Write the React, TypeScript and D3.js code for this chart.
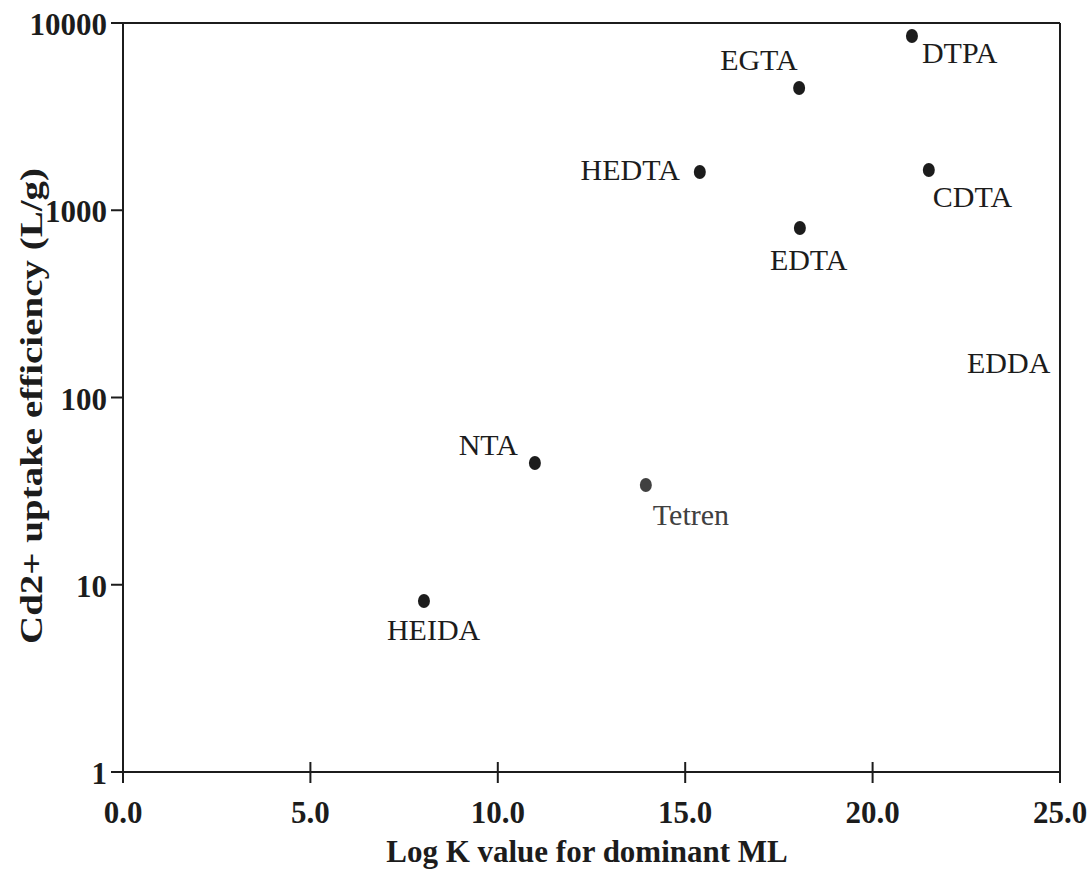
import React from "react";
import * as d3 from "d3";

// ---- data ----
const ligands = ["DTPA", "EGTA", "HEDTA", "CDTA", "EDTA", "NTA", "Tetren", "HEIDA"];
const logK = [21.05, 18.04, 15.39, 21.5, 18.06, 10.99, 13.95, 8.03];
const uptake = [8530, 4500, 1600, 1640, 804, 44.7, 34.1, 8.19];
// label-only entry (no plotted marker)
const extraLabel = "EDDA";
const extraLabelX = 22.52;
const extraLabelY = 135;

const xTicks = [0, 5, 10, 15, 20, 25];
const yTicks = [1, 10, 100, 1000, 10000];
const xTitle = "Log K value for dominant ML";
const yTitle = "Cd2+ uptake efficiency (L/g)";

// label offsets from point (px): [dx, dy, anchor]
const labelOffsets: [number, number, string][] = [
  [10, 27, "start"],
  [-79, -18, "start"],
  [-20, 8, "end"],
  [4, 37, "start"],
  [-30, 42, "start"],
  [-17, -8, "end"],
  [7, 40, "start"],
  [-37, 39, "start"],
];

export default function App() {
  const W = 1089, H = 870;
  const left = 123, right = 1060, top = 23, bottom = 772;
  const x = d3.scaleLinear().domain([0, 25]).range([left, right]);
  const y = d3.scaleLog().domain([1, 10000]).range([bottom, top]);
  const ink = "#1c1c1c";
  const serif = "'Liberation Serif', 'Times New Roman', serif";

  return (
    <svg width={W} height={H} style={{ position: "absolute", left: 0, top: 0, background: "#fff" }}>
      {/* frame */}
      <line x1={left} x2={right} y1={top} y2={top} stroke={ink} strokeWidth={2} />
      <line x1={right} x2={right} y1={top} y2={bottom} stroke={ink} strokeWidth={2} />
      <line x1={left} x2={left} y1={top} y2={bottom} stroke={ink} strokeWidth={2} />
      <line x1={left} x2={right} y1={bottom} y2={bottom} stroke={ink} strokeWidth={2} />

      {/* x ticks */}
      {xTicks.map((t) => (
        <g key={"xt" + t}>
          <line x1={x(t)} x2={x(t)} y1={bottom - 10} y2={bottom + 11} stroke={ink} strokeWidth={2} />
          <text x={x(t)} y={823} textAnchor="middle" fontFamily={serif} fontWeight="bold" fontSize={31} fill={ink}>
            {d3.format(".1f")(t)}
          </text>
        </g>
      ))}

      {/* y ticks */}
      {yTicks.map((t) => (
        <g key={"yt" + t}>
          <line x1={left - 12} x2={left} y1={y(t)} y2={y(t)} stroke={ink} strokeWidth={2} />
          <text x={107} y={y(t) + 12} textAnchor="end" fontFamily={serif} fontWeight="bold" fontSize={31} fill={ink}>
            {String(t)}
          </text>
        </g>
      ))}

      {/* points */}
      {ligands.map((name, i) => {
        const px = x(logK[i]);
        const py = y(uptake[i]);
        const [dx, dy, anchor] = labelOffsets[i];
        const col = name === "Tetren" ? "#404040" : ink;
        return (
          <g key={name}>
            <ellipse cx={px} cy={py} rx={6} ry={7} fill={col} />
            <text x={px + dx} y={py + dy} textAnchor={anchor as any} fontFamily={serif} fontSize={30} fill={col}>
              {name}
            </text>
          </g>
        );
      })}
      <text x={x(extraLabelX)} y={y(extraLabelY)} fontFamily={serif} fontSize={30} fill={ink}>
        {extraLabel}
      </text>

      {/* axis titles */}
      <text x={587} y={862} textAnchor="middle" fontFamily={serif} fontWeight="bold" fontSize={31} fill={ink}>
        {xTitle}
      </text>
      <text
        transform={`translate(42,406) rotate(-90)`}
        textAnchor="middle"
        fontFamily={serif}
        fontWeight="bold"
        fontSize={31}
        fill={ink}
        textLength={476}
        lengthAdjust="spacingAndGlyphs"
      >
        {yTitle}
      </text>
    </svg>
  );
}
